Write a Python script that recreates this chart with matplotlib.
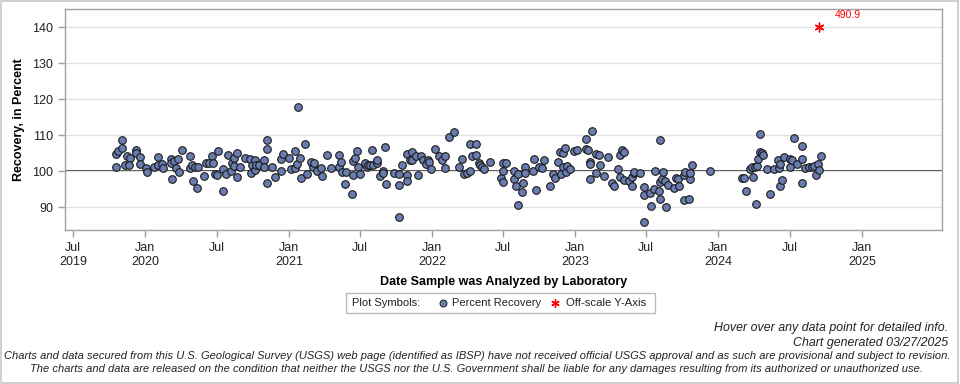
import matplotlib
matplotlib.use("Agg")
import matplotlib.pyplot as plt
import matplotlib.dates as mdates
import numpy as np
import pandas as pd
from matplotlib.lines import Line2D
from matplotlib.patches import Rectangle

plt.rcParams["font.family"] = ["Liberation Sans", "DejaVu Sans"]

# sample dates as decimal years, recovery in percent
years = [
    2019.793, 2019.793, 2019.807, 2019.835, 2019.835, 2019.856, 2019.872, 2019.891, 2019.886, 2019.933,
    2019.937, 2019.961, 2019.961, 2020.007, 2020.012, 2020.058, 2020.086, 2020.086, 2020.119, 2020.123,
    2020.175, 2020.175, 2020.184, 2020.198, 2020.212, 2020.230, 2020.235, 2020.254, 2020.310, 2020.310,
    2020.328, 2020.333, 2020.347, 2020.361, 2020.365, 2020.407, 2020.421, 2020.444, 2020.463, 2020.472,
    2020.482, 2020.500, 2020.505, 2020.542, 2020.542, 2020.561, 2020.575, 2020.593, 2020.603, 2020.617,
    2020.617, 2020.635, 2020.640, 2020.658,
    2020.691, 2020.728, 2020.733, 2020.742, 2020.761, 2020.761, 2020.770, 2020.794, 2020.826, 2020.826,
    2020.845, 2020.845, 2020.845, 2020.882, 2020.901, 2020.942, 2020.942, 2020.956, 2020.998, 2021.017,
    2021.040, 2021.040, 2021.059, 2021.063, 2021.077, 2021.087, 2021.110, 2021.129, 2021.152, 2021.166,
    2021.175, 2021.194, 2021.226, 2021.231, 2021.263, 2021.291, 2021.347, 2021.352, 2021.361, 2021.370,
    2021.389, 2021.398, 2021.440, 2021.445, 2021.445, 2021.463, 2021.477, 2021.482, 2021.496, 2021.533,
    2021.543, 2021.552, 2021.566, 2021.580, 2021.584, 2021.612, 2021.617, 2021.636, 2021.654, 2021.659,
    2021.668, 2021.678, 2021.733, 2021.766, 2021.766, 2021.771, 2021.789, 2021.822, 2021.826, 2021.826,
    2021.845,
    2021.859, 2021.859, 2021.887, 2021.901, 2021.920, 2021.938, 2021.957, 2021.971, 2021.980, 2021.994,
    2022.017, 2022.050, 2022.068, 2022.087, 2022.087, 2022.115, 2022.152, 2022.185, 2022.208, 2022.222,
    2022.245, 2022.264, 2022.264, 2022.282, 2022.306, 2022.306, 2022.324, 2022.334, 2022.348, 2022.362,
    2022.403, 2022.478, 2022.492, 2022.492, 2022.515, 2022.496, 2022.571, 2022.571, 2022.589, 2022.603,
    2022.603, 2022.627, 2022.636, 2022.650, 2022.650, 2022.706, 2022.710, 2022.729, 2022.748, 2022.771,
    2022.785, 2022.822, 2022.841, 2022.855, 2022.878, 2022.892, 2022.901, 2022.915, 2022.915, 2022.929,
    2022.934, 2022.943, 2022.962, 2022.994, 2023.013,
    2023.073, 2023.073, 2023.087, 2023.106, 2023.106, 2023.106, 2023.115, 2023.147, 2023.147, 2023.166,
    2023.171, 2023.203, 2023.227, 2023.254, 2023.273, 2023.301, 2023.315, 2023.315, 2023.324, 2023.338,
    2023.343, 2023.375, 2023.394, 2023.399, 2023.408, 2023.413, 2023.450, 2023.478, 2023.478, 2023.478,
    2023.529, 2023.524, 2023.552, 2023.557, 2023.585, 2023.589, 2023.589, 2023.594, 2023.608, 2023.613,
    2023.627, 2023.631, 2023.645, 2023.687, 2023.701, 2023.715, 2023.724, 2023.757, 2023.762, 2023.766,
    2023.794, 2023.799, 2023.803, 2023.813, 2023.938, 2024.166, 2024.180, 2024.194, 2024.218,
    2024.236, 2024.241, 2024.255, 2024.259, 2024.269, 2024.278, 2024.292, 2024.292, 2024.306, 2024.311,
    2024.339, 2024.357, 2024.385, 2024.413, 2024.422, 2024.427, 2024.432, 2024.446, 2024.455, 2024.497,
    2024.497, 2024.515, 2024.529, 2024.548, 2024.580, 2024.585, 2024.585, 2024.604, 2024.632, 2024.650,
    2024.669, 2024.683, 2024.692, 2024.701, 2024.711,
]
recovery = [
    101.1, 104.7, 105.7, 106.4, 108.6, 101.7, 104.2, 103.8, 101.6, 105.9,
    105.0, 103.9, 102.0, 100.9, 99.9, 101.2, 103.9, 101.7, 102.0, 100.9,
    103.4, 102.2, 97.8, 102.8, 100.9, 103.3, 99.7, 105.8, 104.2, 100.9,
    101.7, 97.3, 101.1, 95.3, 101.1, 98.6, 102.3, 102.3, 104.2, 102.3,
    99.3, 98.9, 105.5, 100.6, 94.6, 99.3, 104.5, 100.0, 102.4, 103.6,
    101.4, 105.0, 98.4, 101.1,
    103.6, 103.3, 99.6, 101.8, 103.1, 100.4, 101.7, 101.7, 103.1, 101.3,
    108.7, 106.1, 96.7, 101.3, 98.3, 103.3, 100.0, 104.8, 103.6, 100.6,
    105.5, 100.9, 102.0, 117.8, 103.6, 98.1, 107.6, 99.3, 102.6, 101.3,
    102.2, 100.0, 100.9, 98.6, 104.4, 100.9, 104.4, 101.3, 102.7, 99.8,
    96.5, 99.8, 93.6, 102.8, 98.9, 103.6, 105.5, 101.3, 99.3, 102.4,
    101.3, 101.8, 101.8, 105.8, 101.8, 102.2, 103.1, 98.6, 100.0, 99.4,
    106.6, 96.5, 99.4, 99.3, 96.1, 87.3, 101.7, 104.8, 99.0, 97.4,
    103.1,
    105.4, 103.1, 104.2, 98.9, 104.2, 103.1, 102.0, 103.1, 102.6, 100.6,
    106.1, 104.2, 103.0, 104.2, 100.9, 109.4, 110.9, 101.1, 103.3, 99.3,
    99.4, 100.0, 107.6, 104.1, 107.6, 104.5, 102.4, 101.7, 101.3, 100.6,
    102.7, 98.2, 97.0, 102.2, 102.3, 100.0, 100.0, 97.8, 95.9, 99.1,
    90.6, 94.3, 96.7, 101.1, 99.6, 100.0, 103.3, 94.8, 101.3, 100.9,
    103.0, 95.8, 99.3, 98.2, 102.6, 105.2, 99.1, 105.0, 101.1, 106.5,
    99.8, 101.5, 100.6, 105.5, 105.9,
    109.0, 106.1, 105.9, 102.6, 102.0, 97.8, 111.1, 104.8, 99.4, 104.6,
    101.7, 98.6, 103.9, 96.7, 95.8, 100.6, 104.4, 98.3, 105.9, 105.4,
    97.6, 97.2, 98.3, 95.8, 99.4, 99.8, 99.4, 95.6, 93.4, 85.9,
    90.4, 94.1, 95.0, 100.0, 94.5, 108.7, 97.0, 92.2, 97.8, 99.8,
    97.2, 90.0, 96.1, 95.4, 98.2, 97.8, 95.8, 98.9, 92.1, 99.8,
    92.2, 97.8, 99.6, 101.7, 100.0, 98.2, 98.2, 94.5, 100.6,
    101.1, 98.3, 101.1, 90.9, 101.5, 103.5, 105.4, 110.3, 105.0, 104.4,
    100.6, 93.6, 100.6, 103.1, 100.9, 96.0, 102.0, 97.6, 103.9, 101.1,
    103.5, 103.0, 109.1, 102.0, 106.9, 96.7, 103.3, 100.9, 101.1, 101.1,
    101.5, 98.9, 102.0, 100.3, 104.2,
]

# off-scale sample (drawn at the top of the axis)
off_year = [2024.704]
off_value = [490.9]
off_plot_at = 140

y_ticks = [90, 100, 110, 120, 130, 140]
x_tick_dates = ["2019-07-01", "2020-01-01", "2020-07-01", "2021-01-01", "2021-07-01", "2022-01-01",
                "2022-07-01", "2023-01-01", "2023-07-01", "2024-01-01", "2024-07-01", "2025-01-01"]
x_tick_labels = ["Jul\n2019", "Jan\n2020", "Jul", "Jan\n2021", "Jul", "Jan\n2022",
                 "Jul", "Jan\n2023", "Jul", "Jan\n2024", "Jul", "Jan\n2025"]


def to_dates(yrs):
    out = []
    for y in yrs:
        yr = int(y)
        start = pd.Timestamp(yr, 1, 1)
        n = (pd.Timestamp(yr + 1, 1, 1) - start).days
        out.append(start + pd.Timedelta(days=(y - yr) * n))
    return out


dates = to_dates(years)
off_dates = to_dates(off_year)

MARKER = "#6A7DB0"
AXIS = "#A0A0A0"
GRID = "#E2E2E2"
TXT = "#222222"

fig = plt.figure(figsize=(9.6, 3.84), dpi=100, facecolor="white")
fig.patches.append(Rectangle((0.001, 0.002), 0.997, 0.996, transform=fig.transFigure,
                             fill=False, edgecolor="#C8C8C8", lw=1.2))

ax = fig.add_axes([65 / 960, 1 - 230 / 384, 877 / 960, 221 / 384])
ax.set_ylim(83.7, 145)
ax.set_xlim(pd.Timestamp("2019-06-10"), pd.Timestamp("2025-07-24"))
for s in ax.spines.values():
    s.set_color(AXIS)
    s.set_linewidth(1.0)

ax.set_yticks(y_ticks)
ax.yaxis.grid(True, color=GRID, lw=1.0, zorder=0)
ax.axhline(100, color="black", lw=1.1, zorder=1)

ax.set_xticks([pd.Timestamp(d) for d in x_tick_dates])
ax.set_xticklabels(x_tick_labels)
ax.tick_params(axis="both", colors=AXIS, labelcolor=TXT, labelsize=9, length=5, width=1)
for lab in ax.get_xticklabels():
    lab.set_linespacing(1.25)

ax.scatter(dates, recovery, s=30, facecolor=MARKER, edgecolor="#1A1A1A", linewidth=0.8, zorder=3)
ax.scatter(off_dates, [off_plot_at] * len(off_dates), marker=(6, 2, 0), s=40, color="red",
           linewidth=1.0, zorder=4, clip_on=False)
for d, v in zip(off_dates, off_value):
    ax.annotate(f"{v:.1f}", (mdates.date2num(d), off_plot_at), xytext=(11, 5),
                textcoords="offset points", color="red", fontsize=7.5, ha="left", va="bottom")

ax.set_ylabel("Recovery, in Percent", fontsize=9, fontweight="bold", color="black", labelpad=5)
ax.set_xlabel("Date Sample was Analyzed by Laboratory", fontsize=9, fontweight="bold",
              color="black", labelpad=6)

# legend box
fig.patches.append(Rectangle((346 / 960, 1 - 313 / 384), 309 / 960, 20 / 384,
                             transform=fig.transFigure, fill=False, edgecolor="#BBBBBB", lw=1.0))
ly = 1 - 303 / 384
fig.text(352 / 960, ly, "Plot Symbols:", fontsize=8, va="center", color=TXT)
fig.add_artist(Line2D([443 / 960], [ly], marker="o", markersize=5, markerfacecolor=MARKER,
                      markeredgecolor="#1A1A1A", markeredgewidth=0.7, transform=fig.transFigure))
fig.text(452 / 960, ly, "Percent Recovery", fontsize=8, va="center", color=TXT)
fig.add_artist(Line2D([555 / 960], [ly], marker=(6, 2, 0), markersize=6, color="red",
                      markeredgewidth=1.0, transform=fig.transFigure))
fig.text(566 / 960, ly, "Off-scale Y-Axis", fontsize=8.2, va="center", color=TXT)

# footer
fig.text(948 / 960, 1 - 328 / 384, "Hover over any data point for detailed info.",
         fontsize=8.9, style="italic", ha="right", va="center", color=TXT)
fig.text(948 / 960, 1 - 343 / 384, "Chart generated 03/27/2025",
         fontsize=8.9, style="italic", ha="right", va="center", color=TXT)
fig.text(477 / 960, 1 - 356 / 384,
         "Charts and data secured from this U.S. Geological Survey (USGS) web page (identified as IBSP) "
         "have not received official USGS approval and as such are provisional and subject to revision.",
         fontsize=8.05, style="italic", ha="center", va="center", color=TXT)
fig.text(477 / 960, 1 - 369 / 384,
         "The charts and data are released on the condition that neither the USGS nor the U.S. Government "
         "shall be liable for any damages resulting from its authorized or unauthorized use.",
         fontsize=8.05, style="italic", ha="center", va="center", color=TXT)

fig.savefig("out.png", dpi=100, facecolor="white")
